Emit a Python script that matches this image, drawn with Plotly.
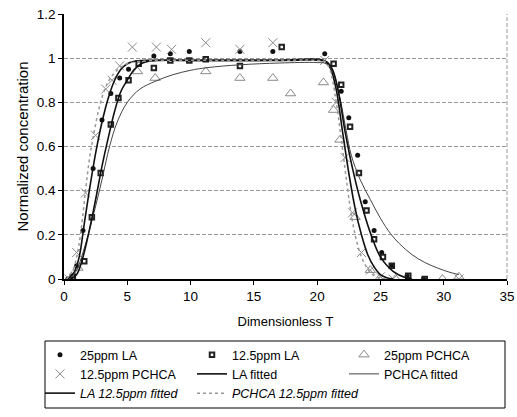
import plotly.graph_objects as go

T_LA25 = [0.3, 1.0, 1.5, 2.3, 3.0, 3.7, 4.4, 5.1, 7.1, 8.4, 9.9, 13.9, 16.5, 20.6,
          21.9, 22.5, 23.2, 23.8, 24.5, 25.1, 25.9, 27.1, 28.4]
C_LA25 = [0.0, 0.06, 0.22, 0.50, 0.72, 0.84, 0.91, 0.95, 1.01, 1.02, 1.03, 1.03, 1.03, 1.02,
          0.85, 0.73, 0.56, 0.35, 0.22, 0.12, 0.06, 0.015, 0.0]

T_LA12 = [0.7, 1.6, 2.2, 2.9, 3.7, 4.3, 5.1, 5.9, 7.1, 8.4, 9.9, 11.2, 13.9, 17.2,
          21.3, 21.9, 22.6, 23.3, 23.9, 24.5, 25.2, 25.9, 27.2, 28.5]
C_LA12 = [0.01, 0.08, 0.28, 0.48, 0.70, 0.82, 0.90, 0.975, 0.955, 0.99, 0.99, 0.995, 0.965, 1.05,
          0.975, 0.88, 0.69, 0.48, 0.31, 0.18, 0.10, 0.06, 0.015, 0.0]

T_PC25 = [0.5, 1.1, 5.8, 7.2, 11.2, 13.9, 16.5, 17.9, 20.5, 21.3, 21.8, 23.0, 24.2, 24.9, 26.2, 29.9, 31.2]
C_PC25 = [0.0, 0.05, 0.94, 0.91, 0.94, 0.91, 0.91, 0.84, 0.89, 0.765, 0.63, 0.28, 0.04, 0.0, 0.0, 0.0, 0.01]

T_PC12 = [0.4, 1.0, 1.7, 2.5, 3.3, 3.8, 4.4, 5.4, 7.3, 8.5, 11.2, 13.9, 16.5, 20.6,
          21.5, 22.2, 22.8, 23.5, 24.2, 25.0, 26.0, 31.2]
C_PC12 = [0.0, 0.12, 0.39, 0.65, 0.86, 0.90, 0.965, 1.05, 1.05, 1.04, 1.07, 1.04, 1.07, 0.99,
          0.80, 0.55, 0.30, 0.12, 0.04, 0.01, 0.0, 0.0]

# fitted curves
FB_T = [0.3, 0.8, 1.2, 1.6, 2.0, 2.5, 3.0, 3.5, 4.0, 4.5, 5.0, 5.5, 6.5, 9.0, 13.0, 17.0, 20.5,
        21.0, 21.5, 22.0, 22.5, 23.0, 23.5, 24.0, 24.5, 25.0, 25.5, 26.0]
FB_C = [0.0, 0.03, 0.10, 0.25, 0.40, 0.57, 0.71, 0.82, 0.90, 0.95, 0.975, 0.985, 0.99, 0.99, 0.99, 0.99, 0.99,
        0.96, 0.86, 0.67, 0.48, 0.32, 0.20, 0.11, 0.055, 0.02, 0.006, 0.0]

FD_T = [0.5, 1.0, 1.5, 2.0, 2.5, 3.0, 3.6, 4.2, 5.0, 6.0, 7.2, 8.6, 10.0, 11.3, 13.9, 17.0, 20.0,
        20.7, 21.3, 21.8, 22.3, 22.7, 23.4, 24.2, 25.0, 25.8, 26.5, 27.5, 28.5, 29.5, 30.5, 31.2]
FD_C = [0.0, 0.04, 0.12, 0.22, 0.33, 0.45, 0.60, 0.71, 0.80, 0.86, 0.895, 0.925, 0.945, 0.957, 0.97, 0.978, 0.98,
        0.975, 0.93, 0.82, 0.67, 0.56, 0.45, 0.36, 0.275, 0.205, 0.16, 0.11, 0.075, 0.05, 0.03, 0.02]

FC_T = [0.5, 1.0, 1.5, 2.0, 2.5, 3.0, 3.5, 4.0, 4.5, 5.0, 5.5, 6.0, 6.6, 7.5, 10.0, 14.0, 18.0,
        20.7, 21.2, 21.7, 22.2, 22.8, 23.4, 24.2, 25.0, 26.0, 27.0, 27.5]
FC_C = [0.0, 0.02, 0.10, 0.22, 0.36, 0.51, 0.64, 0.76, 0.85, 0.90, 0.945, 0.972, 0.985, 0.99, 0.99, 0.99, 0.99,
        0.985, 0.95, 0.84, 0.67, 0.50, 0.36, 0.21, 0.10, 0.035, 0.006, 0.0]

FA_T = [0.2, 0.7, 1.0, 1.3, 1.7, 2.0, 2.3, 2.8, 3.3, 3.8, 4.3, 5.0, 6.0, 8.0, 12.0, 16.0, 20.0,
        20.6, 21.0, 21.4, 21.8, 22.2, 22.6, 23.0, 23.5, 24.0, 24.5, 25.0, 25.5]
FA_C = [0.0, 0.04, 0.10, 0.20, 0.40, 0.54, 0.64, 0.78, 0.87, 0.92, 0.95, 0.975, 0.985, 0.99, 0.99, 0.99, 0.99,
        0.985, 0.95, 0.84, 0.68, 0.50, 0.33, 0.20, 0.10, 0.045, 0.015, 0.004, 0.0]

X_TICKS = [0, 5, 10, 15, 20, 25, 30, 35]

FONT = "Liberation Sans, Arial, sans-serif"

fig = go.Figure()
fig.add_trace(go.Scatter(x=T_LA25, y=C_LA25, mode="markers", name="25ppm LA",
                         marker=dict(symbol="circle", size=5, color="#111")))
fig.add_trace(go.Scatter(x=T_LA12, y=C_LA12, mode="markers", name="12.5ppm LA",
                         marker=dict(symbol="square-open", size=4.5, color="#222", line=dict(width=2))))
fig.add_trace(go.Scatter(x=T_PC25, y=C_PC25, mode="markers", name="25ppm PCHCA",
                         marker=dict(symbol="triangle-up-open", size=9, color="#8a8a8a", line=dict(width=1))))
fig.add_trace(go.Scatter(x=T_PC12, y=C_PC12, mode="markers", name="12.5ppm PCHCA",
                         marker=dict(symbol="x-thin-open", size=9, color="#8a8a8a", line=dict(width=1))))
fig.add_trace(go.Scatter(x=FB_T, y=FB_C, mode="lines", name="LA fitted", line_shape="spline",
                         line=dict(color="#111", width=1.6)))
fig.add_trace(go.Scatter(x=FD_T, y=FD_C, mode="lines", name="PCHCA fitted", line_shape="spline",
                         line=dict(color="#444", width=1)))
fig.add_trace(go.Scatter(x=FC_T, y=FC_C, mode="lines", name="<i>LA 12.5ppm fitted</i>", line_shape="spline",
                         line=dict(color="#111", width=1.6)))
fig.add_trace(go.Scatter(x=FA_T, y=FA_C, mode="lines", name="<i>PCHCA 12.5ppm fitted</i>", line_shape="spline",
                         line=dict(color="#999", width=1.5, dash="dot")))

W, H = 517, 417
L, R, T, B = 64, 10, 14, 138
pw, ph = W - L - R, H - T - B

def px(xp):
    return (xp - L) / pw

def py(yp):
    return (H - B - yp) / ph

fig.update_layout(
    width=W, height=H,
    margin=dict(l=L, r=R, t=T, b=B, autoexpand=False),
    paper_bgcolor="white", plot_bgcolor="white",
    font=dict(family=FONT, color="black", size=13),
    showlegend=True,
    legend=dict(orientation="h", x=px(40), y=py(340), xanchor="left", yanchor="top",
                entrywidth=107, font=dict(size=12.5, family=FONT, color="black"),
                bgcolor="rgba(0,0,0,0)", borderwidth=0, traceorder="normal"),
    xaxis=dict(range=[0, 35], tickvals=X_TICKS, ticks="outside", ticklen=4, tickcolor="black",
               showline=True, linecolor="black", linewidth=1.5, showgrid=False, zeroline=False,
               tickfont=dict(size=13.5), title=dict(text="Dimensionless T", font=dict(size=13), standoff=14)),
    yaxis=dict(range=[0, 1.2], dtick=0.2, ticks="outside", ticklen=4, tickcolor="black",
               showline=True, linecolor="black", linewidth=1.5, showgrid=True, gridcolor="#999999",
               griddash="4px,2px", gridwidth=1, zeroline=False, tickfont=dict(size=13.5),
               title=dict(text="Normalized concentration", font=dict(size=15), standoff=5)),
    shapes=[
        dict(type="line", xref="paper", yref="paper", x0=1, x1=1, y0=0, y1=1,
             line=dict(color="#999999", width=1, dash="4px,2px")),
        dict(type="rect", xref="paper", yref="paper", x0=px(45), x1=px(505), y0=py(408), y1=py(341),
             line=dict(color="black", width=1)),
    ],
)

fig.write_html("out.html")
